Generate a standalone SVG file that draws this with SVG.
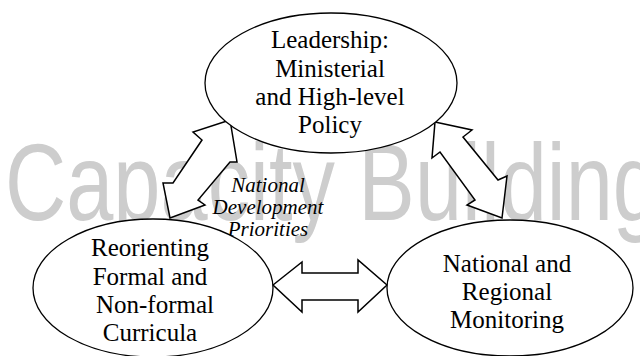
<svg xmlns="http://www.w3.org/2000/svg" width="640" height="356" viewBox="0 0 640 356">
<style>
.bg{font-family:"Liberation Sans Narrow","Liberation Sans",Arial,sans-serif;font-size:110px;fill:#cdcdcd}
.node{fill:#fff;stroke:#000;stroke-width:1.3}
.lbl{font-family:"Liberation Serif","Times New Roman",serif;font-size:25px;fill:#000;text-anchor:middle}
.it{font-family:"Liberation Serif","Times New Roman",serif;font-size:21px;font-style:italic;fill:#000;text-anchor:middle}
.arr{fill:#fff;stroke:#000;stroke-width:1.5;stroke-linejoin:miter}
</style>
<rect width="640" height="356" fill="#fff"/>
<text class="bg" x="5" y="220" textLength="655" lengthAdjust="spacingAndGlyphs">Capacity Building</text>
<g id="connectors">
<polygon class="arr" points="230,120 193,132 202,140 173,183 163,183 170,218 205,205 198,200 230,162 237,162"/>
<polygon class="arr" points="435,122 472,130 463,137 498,180 507,176 502,218 467,205 475,200 440,152 432,158"/>
<polygon class="arr" points="273,285 302,262 302,273 358,273 358,260 387,285 358,312 358,300 302,300 302,312"/>
</g>
<g id="center-label">
<text class="it" x="268" y="192">National</text>
<text class="it" x="268" y="214">Development</text>
<text class="it" x="268" y="236">Priorities</text>
</g>
<g id="leadership">
<ellipse class="node" cx="331" cy="83" rx="126" ry="70"/>
<text class="lbl" x="330" y="48">Leadership:</text>
<text class="lbl" x="330" y="77">Ministerial</text>
<text class="lbl" x="330" y="105">and High-level</text>
<text class="lbl" x="330" y="133">Policy</text>
</g>
<g id="curricula">
<ellipse class="node" cx="153" cy="288" rx="120" ry="69"/>
<text class="lbl" x="150" y="256">Reorienting</text>
<text class="lbl" x="150" y="285">Formal and</text>
<text class="lbl" x="155" y="313">Non-formal</text>
<text class="lbl" x="150" y="341">Curricula</text>
</g>
<g id="monitoring">
<ellipse class="node" cx="510" cy="288" rx="123" ry="68"/>
<text class="lbl" x="507" y="272">National and</text>
<text class="lbl" x="507" y="300">Regional</text>
<text class="lbl" x="507" y="328">Monitoring</text>
</g>
</svg>
